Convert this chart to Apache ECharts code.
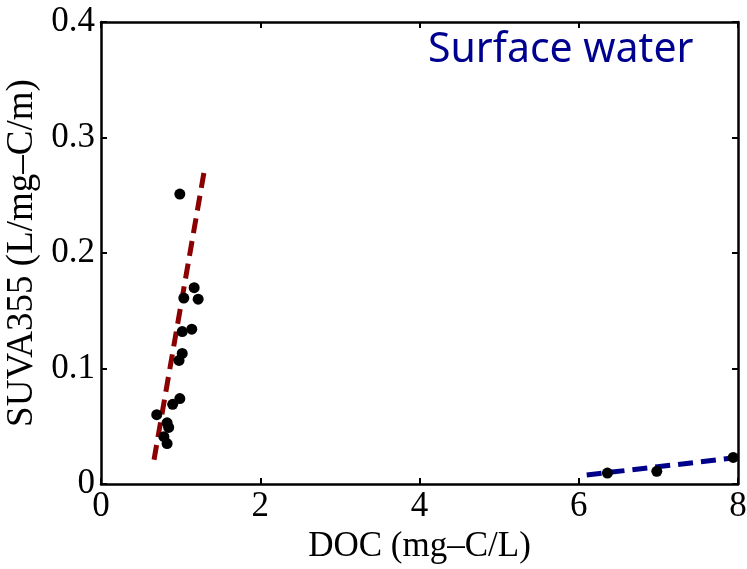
<!DOCTYPE html>
<html>
<head>
<meta charset="utf-8">
<script src="https://cdn.jsdelivr.net/npm/echarts@6/dist/echarts.min.js"></script>
<style>html,body{margin:0;padding:0;background:#fff;}#c{width:747px;height:569px;}</style>
</head>
<body>
<div id="c"></div>
<script>
const xTicks = [0, 2, 4, 6, 8];
const yTicks = [0, 0.1, 0.2, 0.3, 0.4];
const redPointsX = [0.99, 1.17, 1.22, 1.04, 1.14, 1.02, 1.02, 0.98, 0.99, 0.90, 0.70, 0.83, 0.85, 0.79, 0.83];
const redPointsY = [0.251, 0.170, 0.160, 0.161, 0.134, 0.132, 0.113, 0.107, 0.074, 0.069, 0.060, 0.053, 0.049, 0.041, 0.035];
const bluePointsX = [6.36, 6.98, 7.94];
const bluePointsY = [0.0095, 0.011, 0.023];
const redFitX = [0.666, 1.294];
const redFitY = [0.021, 0.270];
const blueFitX = [6.1, 7.94];
const blueFitY = [0.0078, 0.0225];

const pts = (xs, ys) => xs.map((x, i) => [x, ys[i]]);
const serif = '"Liberation Serif", "DejaVu Serif", serif';
const tickCommon = { show: true, inside: true, length: 6, lineStyle: { color: '#000', width: 2 } };
const lineCommon = { show: true, onZero: false, lineStyle: { color: '#000', width: 2.5 } };

const chart = echarts.init(document.getElementById('c'));
chart.setOption({
  backgroundColor: '#fff',
  animation: false,
  grid: { left: 101, right: 9, top: 22, bottom: 85, outerBoundsMode: 'none', containLabel: false },
  title: {
    text: 'Surface water', left: 423, top: 25,
    textStyle: { fontFamily: '"Noto Sans", "Open Sans", sans-serif', fontSize: 41, fontWeight: 'normal', color: '#000090' }
  },
  xAxis: [{
    type: 'value', min: 0, max: 8, interval: 2,
    axisLine: lineCommon, axisTick: tickCommon, splitLine: { show: false },
    axisLabel: { fontFamily: serif, fontSize: 35, color: '#000', margin: 5,
      formatter: v => xTicks.includes(v) ? String(v) : '' },
    name: 'DOC (mg\u2013C/L)', nameLocation: 'middle', nameGap: 39,
    nameTextStyle: { fontFamily: serif, fontSize: 35, color: '#000' }
  }, {
    type: 'value', position: 'top', min: 0, max: 8, interval: 2,
    axisLine: lineCommon, axisTick: tickCommon, axisLabel: { show: false }, splitLine: { show: false }
  }],
  yAxis: [{
    type: 'value', min: 0, max: 0.4, interval: 0.1,
    axisLine: lineCommon, axisTick: tickCommon, splitLine: { show: false },
    axisLabel: { fontFamily: serif, fontSize: 35, color: '#000', margin: 6,
      formatter: v => { const t = yTicks.find(k => Math.abs(k - v) < 1e-9); return t === undefined ? '' : (t === 0 ? '0' : t.toFixed(1)); } },
    name: 'SUVA355 (L/mg\u2013C/m)', nameLocation: 'middle', nameGap: 60,
    nameTextStyle: { fontFamily: serif, fontSize: 37, color: '#000' }
  }, {
    type: 'value', position: 'right', min: 0, max: 0.4, interval: 0.1,
    axisLine: lineCommon, axisTick: tickCommon, axisLabel: { show: false }, splitLine: { show: false }
  }],
  series: [
    {
      type: 'line', data: pts(redFitX, redFitY), symbol: 'none', z: 2,
      lineStyle: { color: '#8B0000', width: 5, type: [15, 8] }
    },
    {
      type: 'line', data: pts(blueFitX, blueFitY), symbol: 'none', z: 2,
      lineStyle: { color: '#00008B', width: 5, type: [15, 8] }
    },
    {
      type: 'scatter', data: pts(redPointsX, redPointsY), symbolSize: 11, z: 3,
      itemStyle: { color: '#000', opacity: 1 }
    },
    {
      type: 'scatter', data: pts(bluePointsX, bluePointsY), symbolSize: 11, z: 3,
      itemStyle: { color: '#000', opacity: 1 }
    }
  ]
});
</script>
</body>
</html>
